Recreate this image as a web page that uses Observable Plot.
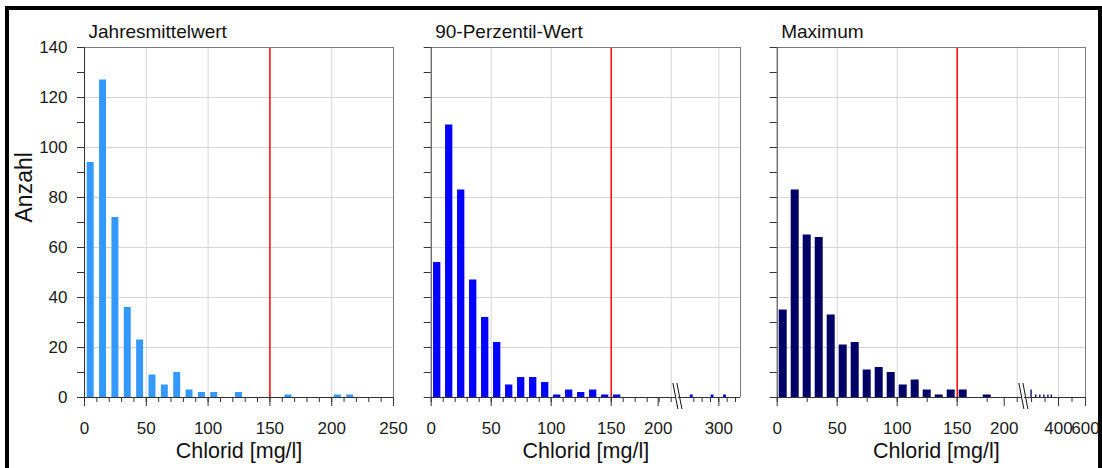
<!DOCTYPE html>
<html>
<head>
<meta charset="utf-8">
<script src="https://cdn.jsdelivr.net/npm/d3@7"></script>
<script src="https://cdn.jsdelivr.net/npm/@observablehq/plot@0.6"></script>
<style>
html, body { margin: 0; padding: 0; background: #fff; }
#wrap { position: relative; width: 1102px; height: 468px; overflow: hidden; background: #fff; }
#wrap svg { position: absolute; left: 0; top: 0; }
#border { position: absolute; left: 5px; top: 6px; width: 1089px; height: 480px; border: 4px solid #000; }
</style>
</head>
<body>
<div id="wrap"><div id="border"></div></div>
<script>
// ---------- data ----------
const panelTitles = ["Jahresmittelwert", "90-Perzentil-Wert", "Maximum"];
const xLabel = "Chlorid [mg/l]";
const yLabel = "Anzahl";
const limitValue = 150;

// Jahresmittelwert (bins of 10 mg/l, lower edges)
const binsMean   = [0, 10, 20, 30, 40, 50, 60, 70, 80, 90, 100, 110, 120, 130, 140, 150, 160, 170, 180, 190, 200, 210, 220, 230, 240];
const countsMean = [94, 127, 72, 36, 23, 9, 5, 10, 3, 2, 2, 0, 2, 0, 0, 0, 1, 0, 0, 0, 1, 1, 0, 0, 0];

// 90-Perzentil-Wert
const binsP90   = [0, 10, 20, 30, 40, 50, 60, 70, 80, 90, 100, 110, 120, 130, 140, 150, 160, 170, 180, 190];
const countsP90 = [54, 109, 83, 47, 32, 22, 5, 8, 8, 6, 1, 3, 2, 3, 1, 1, 0, 0, 0, 0];
const binsP90Tail   = [230, 280, 310];
const countsP90Tail = [1, 1, 1];

// Maximum
const binsMax   = [0, 10, 20, 30, 40, 50, 60, 70, 80, 90, 100, 110, 120, 130, 140, 150, 160, 170, 180, 190];
const countsMax = [35, 83, 65, 64, 33, 21, 22, 11, 12, 10, 5, 7, 3, 1, 3, 3, 0, 1, 0, 0];
const binsMaxTail   = [195, 230, 260, 290, 320, 345];
const countsMaxTail = [3, 1, 1, 1, 1, 1];

// ticks
const yMinorTicks = [0, 10, 20, 30, 40, 50, 60, 70, 80, 90, 100, 110, 120, 130, 140];
const yMajorTicks = [0, 20, 40, 60, 80, 100, 120, 140];
const xMinorMean = [0, 10, 20, 30, 40, 50, 60, 70, 80, 90, 100, 110, 120, 130, 140, 150, 160, 170, 180, 190, 200, 210, 220, 230, 240, 250];
const xMajorMean = [0, 50, 100, 150, 200, 250];
const xMinorP90 = [0, 10, 20, 30, 40, 50, 60, 70, 80, 90, 100, 110, 120, 130, 140, 150, 160, 170, 180, 190, 200];
const xMajorP90 = [0, 50, 100, 150];
const xEndLabel = [200];
const xMinorP90Tail = [240, 260, 280, 300, 320, 340];
const xMajorP90Tail = [300];
const xMinorMax = [0, 25, 50, 75, 100, 125, 150, 175, 200];
const xMajorMax = [0, 50, 100, 150];
const xMinorMaxTail = [200, 300, 400, 500, 600];
const xMajorMaxTail = [400, 600];

// ---------- styling / layout ----------
const FONT = '"Liberation Sans", Arial, Helvetica, sans-serif';
const GRID = "#d6d6d6", FRAME = "#7a7a7a", AXIS = "#333";
const W = 1102, H = 468, TOP = 47, BOTTOM = 397;
const wrap = document.getElementById("wrap");

function segment(o) {
  const data = o.bins.map((lo, i) => ({lo, hi: lo + 10, n: o.counts[i]})).filter(d => d.n > 0);
  const marks = [];
  marks.push(Plot.gridY(yMajorTicks.filter(v => v > 0 && v < 140), {stroke: GRID, strokeOpacity: 1}));
  if (o.grid) marks.push(Plot.gridX(o.grid, {stroke: GRID, strokeOpacity: 1}));
  if (o.limit) marks.push(Plot.ruleX([limitValue], {stroke: "#ff0000", strokeWidth: 1.5}));
  marks.push(Plot.rectY(data, {x1: "lo", x2: "hi", y: "n", fill: o.fill, insetLeft: o.inset, insetRight: o.inset}));
  // frame
  marks.push(Plot.ruleY([140], {stroke: FRAME}));
  if (o.rightEdge) marks.push(Plot.ruleX([o.domain[1]], {stroke: FRAME}));
  if (o.leftEdge) {
    marks.push(Plot.ruleX([o.domain[0]], {stroke: AXIS}));
    marks.push(Plot.axisY(yMinorTicks, {tickSize: 7, tickFormat: () => "", label: null, stroke: AXIS}));
  }
  if (o.yLabels) {
    marks.push(Plot.axisY(yMajorTicks, {tickSize: 0, tickPadding: 17, fontSize: 17, label: null}));
    marks.push(Plot.text([yLabel], {frameAnchor: "left", dx: -60, rotate: -90, fontSize: 23, fill: "#111"}));
  }
  marks.push(Plot.ruleY([0], {stroke: AXIS}));
  marks.push(Plot.axisX(o.minor, {tickSize: 5, tickFormat: () => "", label: null, stroke: AXIS}));
  marks.push(Plot.axisX(o.major, {tickSize: 9, tickPadding: 15, fontSize: 17, label: null, stroke: AXIS}));
  if (o.endLabel) marks.push(Plot.axisX(o.endLabel, {tickSize: 9, tickPadding: 15, fontSize: 17, label: null, stroke: AXIS, dx: -13}));
  if (o.title) marks.push(Plot.text([o.title], {frameAnchor: "top-left", textAnchor: "start", dx: 4, dy: -23, fontSize: 19, fill: "#111"}));
  if (o.xLabel) marks.push(Plot.text([xLabel], {frameAnchor: "bottom", dx: o.xLabelDx, dy: 60, fontSize: 21.5, fill: "#111"}));

  const svg = Plot.plot({
    width: W, height: H,
    marginTop: TOP, marginBottom: H - BOTTOM,
    marginLeft: o.left, marginRight: W - o.right,
    x: {domain: o.domain, label: null},
    y: o.leftEdge ? {domain: [0, 140], label: null} : {domain: [0, 140], label: null, axis: null},
    style: {background: "transparent", overflow: "visible", fontFamily: FONT, color: "#1a1a1a"},
    marks
  });
  if (o.breakAfter) addBreak(svg, o.domain[1]);
  wrap.appendChild(svg);
  return svg;
}

function addBreak(svg, value) {
  const bx = svg.scale("x").apply(value);
  const by = svg.scale("y").apply(0);
  const g = d3.select(svg).append("g");
  g.append("polygon")
    .attr("points", [[bx - 5, by - 14], [bx - 1, by - 14], [bx + 4, by + 12], [bx, by + 12]].map(p => p.join(",")).join(" "))
    .attr("fill", "#fff");
  g.append("line").attr("x1", bx - 5).attr("y1", by - 14).attr("x2", bx).attr("y2", by + 12).attr("stroke", "#111");
  g.append("line").attr("x1", bx - 1).attr("y1", by - 14).attr("x2", bx + 4).attr("y2", by + 12).attr("stroke", "#111");
}

// Panel 1: Jahresmittelwert
segment({
  left: 84, right: 393, domain: [0, 250],
  bins: binsMean, counts: countsMean, fill: "#3399ff", inset: 2.7,
  grid: [50, 100, 200], limit: true,
  minor: xMinorMean, major: xMajorMean,
  leftEdge: true, rightEdge: true, yLabels: true,
  title: panelTitles[0], xLabel: true, xLabelDx: 0
});

// Panel 2: 90-Perzentil-Wert (broken axis)
const p2 = {left: 430.7, brk: 677.9, right: 740};
segment({
  left: p2.left, right: p2.brk, domain: [0, 206],
  bins: binsP90, counts: countsP90, fill: "#0000ff", inset: 2.35,
  grid: [50, 100, 200], limit: true,
  minor: xMinorP90, major: xMajorP90, endLabel: xEndLabel,
  leftEdge: true, breakAfter: true,
  title: panelTitles[1], xLabel: true, xLabelDx: (p2.left + p2.right) / 2 - (p2.left + p2.brk) / 2
});
segment({
  left: p2.brk, right: p2.right, domain: [203, 352],
  bins: binsP90Tail, counts: countsP90Tail, fill: "#0000ff", inset: 0.6,
  grid: [300],
  minor: xMinorP90Tail, major: xMajorP90Tail,
  rightEdge: true
});

// Panel 3: Maximum (broken axis)
const p3 = {left: 776.7, brk: 1023.9, right: 1085};
segment({
  left: p3.left, right: p3.brk, domain: [0, 206],
  bins: binsMax, counts: countsMax, fill: "#000066", inset: 2,
  grid: [50, 100, 200], limit: true,
  minor: xMinorMax, major: xMajorMax, endLabel: xEndLabel,
  leftEdge: true, breakAfter: true,
  title: panelTitles[2], xLabel: true, xLabelDx: (p3.left + p3.right) / 2 - (p3.left + p3.brk) / 2 + 5
});
segment({
  left: p3.brk, right: p3.right, domain: [147, 600],
  bins: binsMaxTail, counts: countsMaxTail, fill: "#000066", inset: 0,
  grid: [400],
  minor: xMinorMaxTail, major: xMajorMaxTail,
  rightEdge: true
});
</script>
</body>
</html>
